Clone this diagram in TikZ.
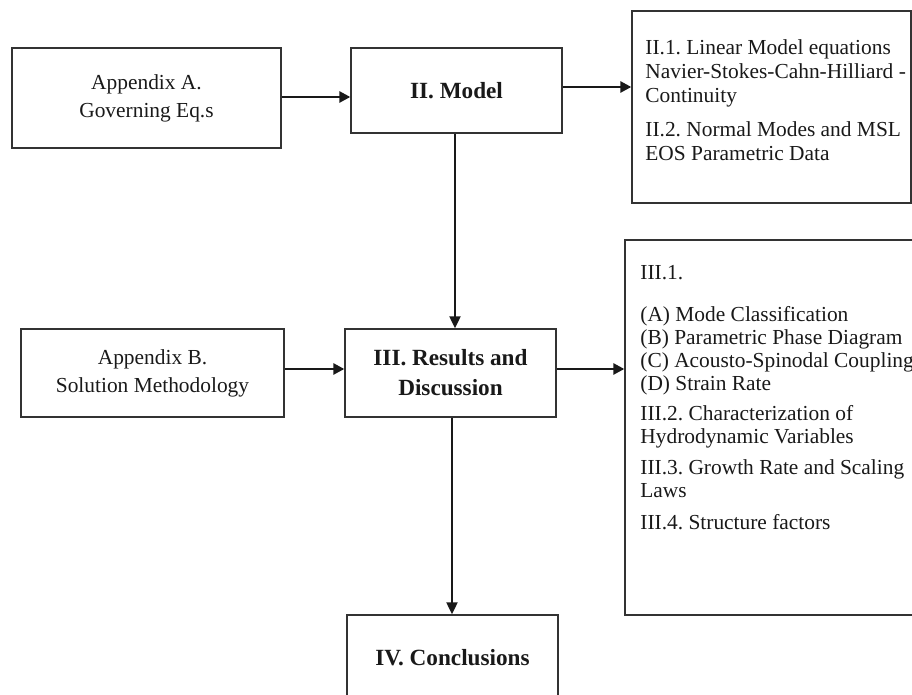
\documentclass[tikz,border=0pt]{standalone}
\usepackage{fontspec}
\setmainfont{Liberation Serif}
\usetikzlibrary{arrows.meta}
\frenchspacing
\begin{document}
\begin{tikzpicture}[x=0.5pt,y=-0.5pt,
    box/.style={draw=black!80, line width=0.65pt, inner sep=0pt, align=center, text=black!90},
    plain/.style={font=\fontsize{10.7}{12}\selectfont},
    heading/.style={font=\fontsize{11.6}{15}\selectfont\bfseries},
    listing/.style={anchor=base west, align=flush left, inner sep=0pt, text=black!90},
    harrow/.style={line width=1.3pt, black!90, -{Triangle[length=5.5pt,width=5.5pt]}},
    varrow/.style={line width=1pt, black!90, -{Triangle[length=6pt,width=5.5pt]}}]
      \useasboundingbox (0,0) rectangle (912,695);
      % Main Sections
      \node[box, heading, minimum width=105.5pt, minimum height=42.5pt] (model) at (456.5, 90.5) {II. Model};
      \node[box, heading, minimum width=105.5pt, minimum height=44pt] (results) at (450.5, 373) {III. Results and\\[0pt]Discussion};
      \node[box, heading, minimum width=105.5pt, minimum height=42.5pt] (concl) at (452.5, 657.5) {IV. Conclusions};
      % Appendices
      \node[box, plain, minimum width=134.5pt, minimum height=50pt] (appA) at (146.5, 98) {Appendix A.\\[2pt]Governing Eq.s};
      \node[box, plain, minimum width=131.5pt, minimum height=44pt] (appB) at (152.5, 373) {Appendix B.\\[2pt]Solution Methodology};
      % Sub-Sections
      \node[box, minimum width=139.5pt, minimum height=96pt] (subII) at (771.5, 107) {};
      \node[box, minimum width=160pt, minimum height=187.5pt] (subIII) at (785, 427.5) {};
      \node[listing, plain, text width=160pt] (subIItext) at (645, 55) {II.1. Linear Model equations\\Navier-Stokes-Cahn-Hilliard -\\Continuity\\[5pt]II.2. Normal Modes and MSL\\EOS Parametric Data};
      \node[listing, font=\fontsize{10.7}{11.5}\selectfont, text width=180pt] (subIIItext) at (640, 280) {III.1.\\[9.5pt](A) Mode Classification\\(B) Parametric Phase Diagram\\(C) Acousto-Spinodal Coupling\\(D) Strain Rate\\[3.5pt]III.2. Characterization of\\Hydrodynamic Variables\\[4pt]III.3. Growth Rate and Scaling\\Laws\\[4.5pt]III.4. Structure factors};
      % Arrows:
      \coordinate (mOut) at ([yshift=1.75pt]model.east);
      \coordinate (aOut) at ([yshift=0.5pt]appA.east);
      \coordinate (bOut) at ([yshift=2pt]appB.east);
      \coordinate (rOut) at ([yshift=2pt]results.east);
      \draw[harrow] (aOut) -- (aOut -| model.west);
      \draw[harrow] (mOut) -- (mOut -| subII.west);
      \draw[harrow] (bOut) -- (bOut -| results.west);
      \draw[harrow] (rOut) -- (rOut -| subIII.west);
      \draw[varrow] ([xshift=-0.75pt]model.south) -- ([xshift=-0.75pt]model.south |- results.north);
      \draw[varrow] ([xshift=0.75pt]results.south) -- ([xshift=0.75pt]results.south |- concl.north);
\end{tikzpicture}
\end{document}
